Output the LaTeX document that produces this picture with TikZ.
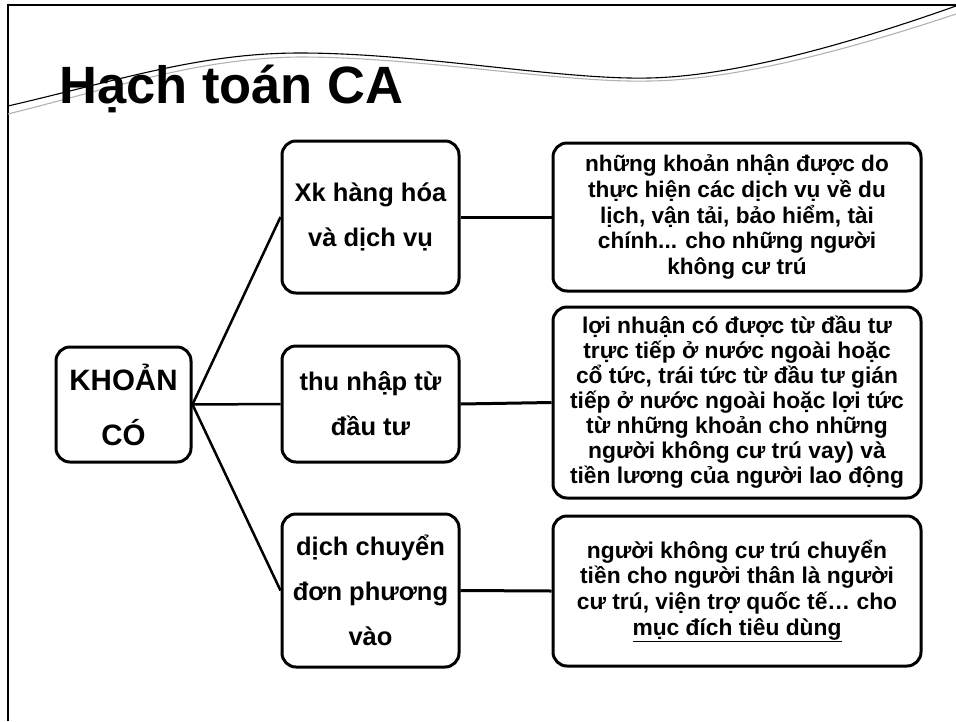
\documentclass[tikz,border=0pt]{standalone}
\usepackage{fontspec}
\setmainfont{Liberation Sans}
\begin{document}
\begin{tikzpicture}[x=1pt,y=-1pt,
  box/.style={draw, line width=3pt, rounded corners=14pt, align=center, inner sep=0pt, font=\bfseries},
  conn/.style={line width=3pt},
  diag/.style={line width=2.5pt}]
\useasboundingbox (0,0) rectangle (956,721);
% slide frame
\draw[line width=2.2pt] (8,721) -- (8,5) -- (956,5);
% swoosh
\draw[line width=1.1pt, gray!60] (8,114) .. controls (120,86) and (200,58) .. (300,57) .. controls (420,57) and (560,83) .. (649,81) .. controls (740,80) and (860,46) .. (956,14);
\draw[line width=1.1pt, black] (8,106) .. controls (120,80) and (200,53) .. (300,53) .. controls (420,53) and (560,80) .. (649,78) .. controls (740,76) and (860,40) .. (956,6);
% title
\node[anchor=base west, inner sep=0pt, font=\bfseries\fontsize{52.5}{60}\selectfont] (title) at (59,103) {Hạch toán CA};
% boxes
\node[box, minimum width=135, minimum height=115, font=\bfseries\fontsize{29.5}{55}\selectfont] (k) at (123.5,404.5) {KHOẢN\\CÓ};
\node[box, minimum width=177, minimum height=152, font=\bfseries\fontsize{25.5}{45}\selectfont] (x) at (370.5,217) {Xk hàng hóa\\và dịch vụ};
\node[box, minimum width=177, minimum height=116, font=\bfseries\fontsize{25.5}{45}\selectfont] (t) at (370.5,404) {thu nhập từ\\đầu tư};
\node[box, minimum width=177, minimum height=153, font=\bfseries\fontsize{25.5}{45}\selectfont] (d) at (370.5,590.5) {dịch chuyển\\đơn phương\\vào};
\node[box, minimum width=368, minimum height=148, font=\bfseries\fontsize{22.6}{25.7}\selectfont] (r1) at (737,217) {những khoản nhận được do\\thực hiện các dịch vụ về du\\lịch, vận tải, bảo hiểm, tài\\chính... cho những người\\không cư trú};
\node[box, minimum width=368, minimum height=191, font=\bfseries\fontsize{22.8}{25}\selectfont] (r2) at (737,402.5) {lợi nhuận có được từ đầu tư\\trực tiếp ở nước ngoài hoặc\\cổ tức, trái tức từ đầu tư gián\\tiếp ở nước ngoài hoặc lợi tức\\từ những khoản cho những\\người không cư trú vay) và\\tiền lương của người lao động};
\node[box, minimum width=368, minimum height=150, font=\bfseries\fontsize{22.8}{25.7}\selectfont] (r3) at (737,591) {người không cư trú chuyển\\tiền cho người thân là người\\cư trú, viện trợ quốc tế… cho\\\underline{mục đích tiêu dùng}};
% connectors
\draw[diag] (k.east) -- (x.west);
\draw[diag] (k.east) -- (t.west);
\draw[diag] (k.east) -- (d.west);
\draw[conn] (x.east) -- (r1.west);
\draw[conn] (t.east) -- (r2.west);
\draw[conn] (d.east) -- (r3.west);
\end{tikzpicture}
\end{document}
